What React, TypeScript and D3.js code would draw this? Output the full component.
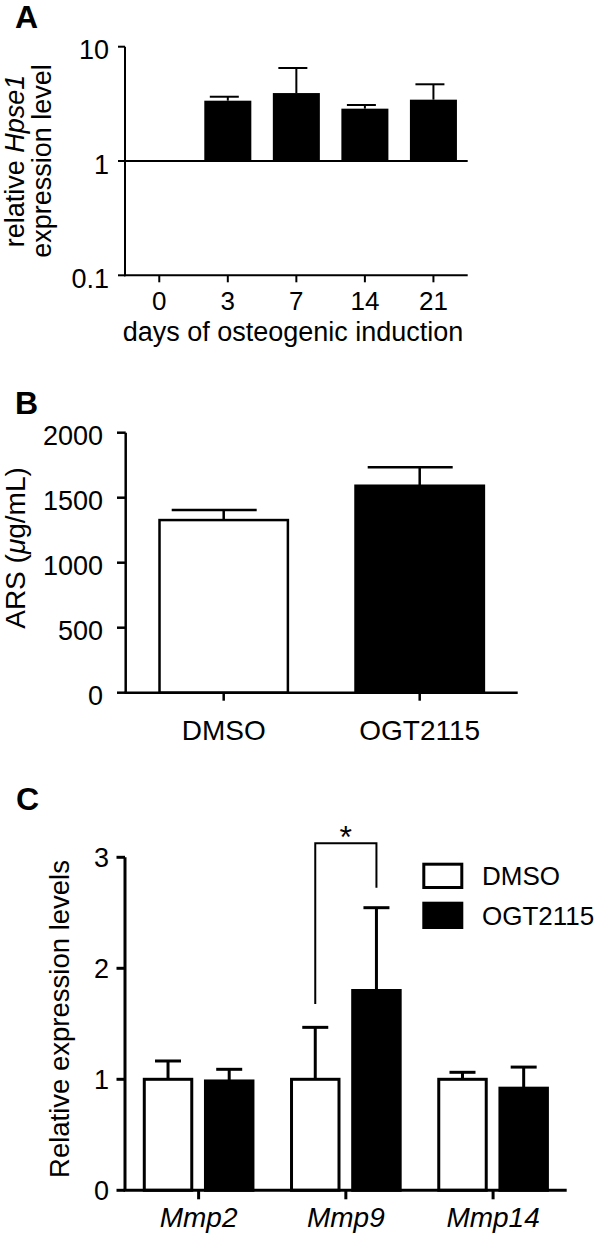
import React from "react";
import * as d3 from "d3";

// ---------- Data ----------
// Panel A
const daysA = ["0", "3", "7", "14", "21"];
const hpseMean = [1, 3.37, 3.93, 2.87, 3.44];
const hpseUpper = [1, 3.65, 6.51, 3.09, 4.69];
const yTicksA = [0.1, 1, 10];

// Panel B
const groupsB = ["DMSO", "OGT2115"];
const arsMean = [1328, 1592];
const arsUpper = [1405, 1734];
const yTicksB = [0, 500, 1000, 1500, 2000];

// Panel C
const genesC = ["Mmp2", "Mmp9", "Mmp14"];
const seriesC = ["DMSO", "OGT2115"];
const dmsoC = [1.0, 1.0, 1.0];
const dmsoUpperC = [1.165, 1.468, 1.063];
const ogtC = [0.985, 1.8, 0.92];
const ogtUpperC = [1.09, 2.546, 1.11];
const yTicksC = [0, 1, 2, 3];

const FONT = "'Liberation Sans', Arial, Helvetica, sans-serif";

export default function App() {
  // ----- Panel A scales -----
  const yA = d3.scaleLog().domain([0.1, 10]).range([275.3, 46.7]);
  const xA = d3
    .scaleBand<string>()
    .domain(daysA)
    .range([125, 467.7])
    .paddingInner(0.314)
    .paddingOuter(0.157);
  const wA = xA.bandwidth();

  // ----- Panel B scales -----
  const yB = d3.scaleLinear().domain([0, 2000]).range([692.7, 432.7]);
  const xB = d3
    .scaleBand<string>()
    .domain(groupsB)
    .range([125.7, 517.7])
    .paddingInner(0.345)
    .paddingOuter(0.1725);
  const wB = xB.bandwidth();

  // ----- Panel C scales -----
  const yC = d3.scaleLinear().domain([0, 3]).range([1190.3, 857.3]);
  const xC = d3
    .scaleBand<string>()
    .domain(genesC)
    .range([125, 566.7])
    .paddingInner(0.262)
    .paddingOuter(0.131);
  const xSub = d3
    .scaleBand<string>()
    .domain(seriesC)
    .range([0, xC.bandwidth()])
    .paddingInner(0.224);
  const wC = xSub.bandwidth();
  const seriesData = [
    { key: "DMSO", mean: dmsoC, upper: dmsoUpperC, fill: "#fff" },
    { key: "OGT2115", mean: ogtC, upper: ogtUpperC, fill: "#000" },
  ];

  const cxC = (g: string, s: string) => (xC(g) as number) + (xSub(s) as number) + wC / 2;
  const bL = cxC("Mmp9", "DMSO");
  const bR = cxC("Mmp9", "OGT2115");

  return (
    <svg
      width={600}
      height={1234}
      style={{ position: "absolute", left: 0, top: 0, background: "#fff" }}
      fontFamily={FONT}
    >
      <rect x={0} y={0} width={600} height={1234} fill="#fff" />

      {/* ================= Panel A ================= */}
      <text x={15} y={28} fontSize={32} fontWeight="bold">A</text>
      {/* bars */}
      {daysA.map((d, i) => {
        const x = xA(d) as number;
        const top = yA(hpseMean[i]);
        const base = yA(1);
        const up = yA(hpseUpper[i]);
        const cx = x + wA / 2;
        return (
          <g key={d}>
            <rect x={x} y={Math.min(top, base)} width={wA} height={Math.abs(base - top)} fill="#000" />
            {hpseUpper[i] > hpseMean[i] && (
              <g stroke="#000" strokeWidth={2}>
                <line x1={cx} x2={cx} y1={top} y2={up} />
                <line x1={cx - 18} x2={cx + 11} y1={up} y2={up} />
              </g>
            )}
          </g>
        );
      })}
      {/* baseline at 1 */}
      <line x1={125} x2={467.7} y1={yA(1)} y2={yA(1)} stroke="#000" strokeWidth={2} />
      {/* y axis */}
      <line x1={125} x2={125} y1={yA(10)} y2={yA(0.1) + 1} stroke="#000" strokeWidth={2} />
      {yTicksA.map((t) => (
        <g key={t}>
          <line x1={118} x2={125} y1={yA(t)} y2={yA(t)} stroke="#000" strokeWidth={2} />
          <text x={109} y={yA(t) + 12.7} fontSize={27} textAnchor="end">
            {t}
          </text>
        </g>
      ))}
      {/* x axis */}
      <line x1={124} x2={467.7} y1={yA(0.1)} y2={yA(0.1)} stroke="#000" strokeWidth={2} />
      {daysA.map((d) => {
        const cx = (xA(d) as number) + wA / 2;
        return (
          <g key={d}>
            <line x1={cx} x2={cx} y1={yA(0.1)} y2={yA(0.1) + 7} stroke="#000" strokeWidth={2} />
            <text x={cx} y={309.5} fontSize={26} textAnchor="middle">
              {d}
            </text>
          </g>
        );
      })}
      <text x={293} y={340.5} fontSize={27} textAnchor="middle">
        days of osteogenic induction
      </text>
      {/* y label */}
      <text transform="translate(24,161) rotate(-90)" fontSize={27} textAnchor="middle">
        relative <tspan fontStyle="italic">Hpse1</tspan>
      </text>
      <text transform="translate(51,161) rotate(-90)" fontSize={27} textAnchor="middle">
        expression level
      </text>

      {/* ================= Panel B ================= */}
      <text x={15} y={414} fontSize={32} fontWeight="bold">B</text>
      {groupsB.map((g, i) => {
        const x = xB(g) as number;
        const top = yB(arsMean[i]);
        const up = yB(arsUpper[i]);
        const cx = x + wB / 2;
        return (
          <g key={g}>
            <rect
              x={x}
              y={top}
              width={wB}
              height={yB(0) - top}
              fill={i === 0 ? "#fff" : "#000"}
              stroke="#000"
              strokeWidth={2.5}
            />
            <g stroke="#000" strokeWidth={2.5}>
              <line x1={cx} x2={cx} y1={top} y2={up} />
              <line x1={cx - 52} x2={cx + 33} y1={up} y2={up} />
            </g>
          </g>
        );
      })}
      <line x1={125.7} x2={125.7} y1={yB(2000)} y2={yB(0)} stroke="#000" strokeWidth={2.5} />
      {yTicksB.map((t) => (
        <g key={t}>
          <line x1={117} x2={125.7} y1={yB(t)} y2={yB(t)} stroke="#000" strokeWidth={2.5} />
          <text x={103} y={yB(t) + 12.3} fontSize={27} textAnchor="end">
            {t}
          </text>
        </g>
      ))}
      <line x1={124.5} x2={517.7} y1={yB(0)} y2={yB(0)} stroke="#000" strokeWidth={2.5} />
      {groupsB.map((g) => {
        const cx = (xB(g) as number) + wB / 2;
        return (
          <g key={g}>
            <line x1={cx} x2={cx} y1={yB(0)} y2={yB(0) + 8} stroke="#000" strokeWidth={2.5} />
            <text x={cx} y={740} fontSize={28} textAnchor="middle">
              {g}
            </text>
          </g>
        );
      })}
      <text transform="translate(25,548) rotate(-90)" fontSize={28} textAnchor="middle">
        ARS (<tspan fontStyle="italic">μ</tspan>g/mL)
      </text>

      {/* ================= Panel C ================= */}
      <text x={16} y={810} fontSize={32} fontWeight="bold">C</text>
      {genesC.map((g, gi) =>
        seriesData.map((s) => {
          const x = (xC(g) as number) + (xSub(s.key) as number);
          const top = yC(s.mean[gi]);
          const up = yC(s.upper[gi]);
          const cx = x + wC / 2;
          return (
            <g key={g + s.key}>
              <rect
                x={x}
                y={top}
                width={wC}
                height={yC(0) - top}
                fill={s.fill}
                stroke="#000"
                strokeWidth={3}
              />
              <g stroke="#000" strokeWidth={3}>
                <line x1={cx} x2={cx} y1={top} y2={up} />
                <line x1={cx - 13} x2={cx + 13} y1={up} y2={up} />
              </g>
            </g>
          );
        })
      )}
      <line x1={125} x2={125} y1={yC(3)} y2={yC(0)} stroke="#000" strokeWidth={3} />
      {yTicksC.map((t) => (
        <g key={t}>
          <line x1={116.5} x2={125} y1={yC(t)} y2={yC(t)} stroke="#000" strokeWidth={3} />
          <text x={109} y={yC(t) + 9.7} fontSize={27} textAnchor="end">
            {t}
          </text>
        </g>
      ))}
      <line x1={123.5} x2={566.7} y1={yC(0)} y2={yC(0)} stroke="#000" strokeWidth={3} />
      {genesC.map((g) => {
        const cx = (xC(g) as number) + xC.bandwidth() / 2;
        return (
          <g key={g}>
            <line x1={cx} x2={cx} y1={yC(0)} y2={yC(0) + 9} stroke="#000" strokeWidth={3} />
            <text x={cx} y={1226.7} fontSize={28} textAnchor="middle" fontStyle="italic">
              {g}
            </text>
          </g>
        );
      })}
      <text transform="translate(69,1019) rotate(-90)" fontSize={27.5} textAnchor="middle">
        Relative expression levels
      </text>

      {/* significance bracket */}
      <path
        d={`M${bL},1004 L${bL},843.3 L${bR},843.3 L${bR},887.7`}
        fill="none"
        stroke="#000"
        strokeWidth={2}
      />
      <text x={(bL + bR) / 2} y={848} fontSize={32} textAnchor="middle">
        *
      </text>

      {/* legend */}
      <rect x={423.8} y={864.2} width={38} height={23.3} fill="#fff" stroke="#000" strokeWidth={3} />
      <rect x={423.8} y={903.2} width={38} height={24.3} fill="#000" stroke="#000" strokeWidth={3} />
      <text x={482} y={885} fontSize={26}>DMSO</text>
      <text x={482} y={925} fontSize={26}>OGT2115</text>
    </svg>
  );
}
